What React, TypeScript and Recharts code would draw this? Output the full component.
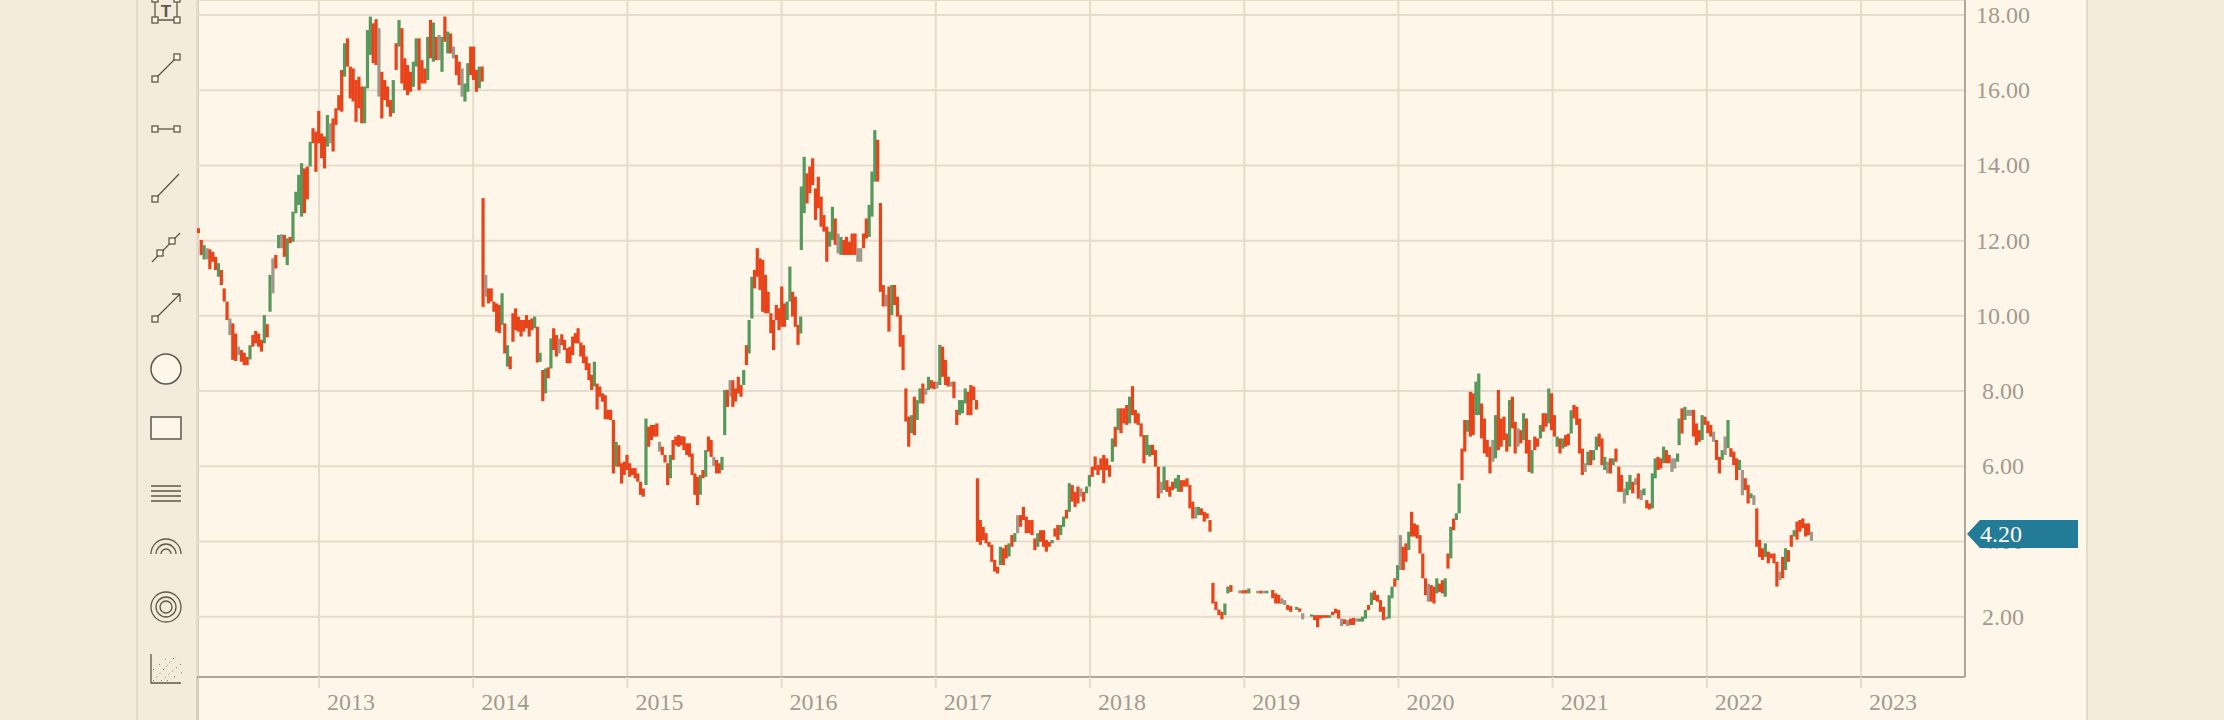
import React from "react";
import {
  Bar,
  CartesianGrid,
  ComposedChart,
  ReferenceLine,
  XAxis,
  YAxis,
} from "recharts";

// one row per week: [high, low, tone], r = down, g = up, n = flat. null = no trade that week
type Candle = [number, number, string] | null;

const candles2012: Candle[] = [
  [12.33,12.2,"r"],[12.02,11.62,"r"],[11.88,11.5,"g"],[11.8,11.5,"n"],[11.77,11.24,"r"],[11.7,11.44,"r"],[11.57,11.22,"r"],[11.4,11.04,"g"],
  [11.22,10.82,"r"],[10.73,10.38,"r"],[10.38,9.89,"r"],[9.93,9.49,"n"],[9.8,8.83,"r"],[9.53,8.8,"r"],[9.18,8.96,"n"],[9.09,8.78,"r"],
  [9.02,8.69,"r"],[8.91,8.69,"r"],[9.22,8.84,"g"],[9.49,9.18,"r"],[9.6,9.27,"r"],[9.53,9.18,"r"],[9.36,9.05,"r"],[10.02,9.27,"g"],
  [9.78,9.43,"r"],[11.09,10.11,"g"],[11.53,10.6,"n"],[11.62,11.26,"r"],[12.15,11.8,"g"],[12.17,11.8,"n"],[12.15,11.57,"r"],[12.06,11.35,"g"],
  [12.1,11.93,"r"],[12.77,11.97,"g"],[13.3,12.73,"g"],[13.75,12.95,"g"],[14.06,12.64,"g"],[13.92,12.73,"r"],
  [13.97,13.1,"r"],[14.63,13.97,"g"],[14.99,14.59,"r"],[14.9,13.83,"r"],[15.45,14.59,"r"],[14.85,14.19,"r"],[14.77,13.92,"r"],[15.34,14.5,"g"],
  [15.12,14.59,"n"],[15.25,14.37,"r"],[15.52,15.08,"r"],[15.87,15.47,"r"],[16.54,15.43,"r"],[17.25,16.36,"g"],[17.38,16.63,"r"],[16.63,15.78,"r"],
  [16.58,15.7,"r"],[16.27,15.16,"r"],[16.36,15.52,"r"],[16.1,15.12,"r"],[16.1,15.12,"g"],[17.6,16.05,"g"],[17.96,16.94,"g"],[17.78,16.72,"r"],
  [17.89,16.67,"r"],[17.65,15.83,"n"],[16.49,15.25,"r"],[16.27,15.74,"r"],[16.1,15.56,"r"],[15.74,15.3,"r"],[16.27,15.39,"g"],[17.25,16.54,"r"],
  [17.87,17.16,"g"],[17.65,16.18,"r"],[16.85,16.0,"r"],[16.67,15.87,"r"],[16.49,15.96,"r"],[16.76,16.09,"g"],[17.38,16.63,"g"],[17.38,16.0,"r"],
  [16.8,16.18,"r"],[16.58,16.18,"r"],[17.42,16.27,"g"],[17.87,16.85,"r"],[17.8,16.76,"g"],[17.42,16.8,"r"],[17.47,16.8,"n"],[17.42,16.49,"g"],
  [17.96,17.29,"r"],[17.56,16.98,"g"],[17.51,16.98,"r"],[17.16,16.85,"n"],[16.94,16.4,"r"],[16.76,16.14,"r"],[16.58,15.83,"n"],[16.18,15.7,"g"],
  [16.72,15.96,"g"],[17.16,16.4,"r"],[17.16,16.27,"r"],[16.54,15.96,"r"],[16.63,16.05,"g"],[16.63,16.23,"r"],
];

const candles2014: Candle[] = [
  [13.13,10.24,"r"],[11.09,10.51,"n"],[10.73,10.33,"r"],[10.73,10.38,"r"],[10.38,10.11,"r"],[10.33,9.58,"r"],[10.29,9.54,"r"],[10.6,9.76,"g"],
  [9.8,9.0,"r"],[9.22,8.65,"g"],[8.92,8.58,"r"],[10.07,9.31,"r"],[10.2,9.62,"r"],[9.98,9.58,"r"],[9.89,9.45,"r"],[9.89,9.58,"r"],
  [10.02,9.67,"r"],[9.89,9.45,"r"],[9.93,9.62,"r"],[9.98,9.67,"g"],[9.71,8.76,"r"],[9.02,8.78,"g"],[8.56,7.73,"r"],[8.6,7.94,"g"],
  [8.63,8.34,"r"],[9.4,8.6,"g"],[9.67,9.09,"r"],[9.49,8.92,"r"],[9.4,9.0,"n"],[9.51,9.22,"r"],[9.36,9.09,"r"],[9.14,8.74,"r"],
  [9.18,8.74,"r"],[9.45,8.96,"r"],[9.54,9.27,"r"],[9.67,9.27,"r"],[9.29,8.92,"r"],[9.22,8.74,"r"],[8.92,8.56,"r"],[8.74,8.29,"r"],
  [8.43,8.03,"r"],[8.78,8.12,"g"],[8.2,7.51,"r"],[8.12,7.85,"r"],[7.94,7.72,"r"],[7.89,7.25,"r"],[7.5,7.25,"r"],[7.5,7.23,"r"],
  [7.23,5.81,"r"],[6.65,5.99,"g"],[6.56,5.99,"r"],[6.08,5.54,"r"],[6.12,5.77,"r"],[6.3,5.9,"r"],[6.08,5.72,"r"],[5.95,5.77,"r"],
  [5.95,5.68,"r"],[5.81,5.59,"r"],[5.59,5.24,"r"],[5.41,5.19,"r"],[7.27,5.5,"g"],[7.05,6.52,"r"],[7.1,6.7,"r"],[7.1,6.79,"r"],
  [7.14,6.79,"r"],[6.65,6.39,"n"],[6.52,6.3,"r"],[6.3,6.1,"r"],[6.08,5.5,"r"],[6.3,5.68,"g"],[6.7,6.17,"r"],[6.79,6.56,"r"],
  [6.83,6.52,"r"],[6.8,6.56,"r"],[6.79,6.43,"r"],[6.61,6.3,"r"],[6.61,6.25,"r"],[6.34,5.77,"r"],[5.81,5.24,"r"],[5.72,4.97,"r"],
  [5.77,5.24,"g"],[5.9,5.68,"r"],[6.43,5.72,"g"],[6.79,6.39,"r"],[6.7,6.25,"r"],[6.25,6.01,"n"],[6.17,5.81,"r"],[6.08,5.81,"r"],
  [6.25,5.9,"g"],[8.03,6.83,"g"],[8.03,7.58,"r"],[8.29,7.85,"n"],[8.29,7.58,"r"],[8.07,7.72,"r"],[8.38,7.94,"r"],[8.16,7.85,"r"],
  [8.56,8.16,"g"],[9.22,8.69,"r"],[9.89,9.0,"g"],[11.04,9.93,"g"],[11.22,10.73,"r"],[11.8,11.04,"r"],[11.53,10.69,"r"],[11.49,10.11,"r"],
  [11.09,10.07,"r"],[10.64,10.07,"r"],[10.07,9.54,"r"],[9.89,9.09,"r"],[10.29,9.89,"r"],[10.2,9.62,"r"],[10.78,9.71,"r"],[10.33,9.71,"r"],
  [10.38,9.89,"g"],[11.31,10.38,"g"],[10.64,9.98,"r"],[10.51,9.71,"r"],[9.76,9.23,"r"],[9.98,9.53,"g"],
];

const candles2016: Candle[] = [
  [13.44,11.75,"g"],[14.23,12.73,"g"],[13.79,12.99,"r"],[13.97,13.26,"r"],[14.19,13.48,"r"],[13.39,12.55,"r"],[13.7,12.86,"r"],[13.17,12.37,"r"],
  [12.68,12.24,"r"],[12.37,11.44,"r"],[12.24,11.84,"g"],[12.9,12.02,"g"],[12.59,11.89,"r"],[12.19,11.66,"n"],[12.1,11.62,"g"],[12.02,11.62,"r"],
  [12.1,11.62,"r"],[11.97,11.62,"r"],[12.19,11.62,"r"],[12.19,11.62,"r"],[11.8,11.44,"n"],[11.8,11.44,"n"],[12.19,11.8,"r"],[12.59,12.06,"r"],
  [12.95,12.1,"g"],[13.84,12.64,"g"],[14.94,13.57,"g"],[14.68,13.57,"r"],[13.0,10.64,"r"],[10.82,10.25,"r"],[10.56,10.25,"n"],[10.78,9.58,"r"],
  [10.82,10.02,"g"],[10.82,10.29,"r"],[10.51,9.98,"r"],[10.02,9.18,"r"],[9.49,8.56,"r"],[8.07,7.19,"r"],[7.32,6.52,"r"],[7.36,6.88,"g"],
  [7.85,6.83,"r"],[7.76,7.23,"g"],[8.07,7.67,"g"],[8.2,7.67,"r"],[8.07,7.9,"n"],[8.38,8.03,"g"],[8.29,8.07,"r"],[8.25,8.05,"r"],
  [8.25,8.07,"n"],[9.23,8.16,"g"],[9.18,8.38,"r"],[8.83,8.16,"r"],[8.38,8.12,"r"],[8.25,8.12,"n"],[8.25,7.81,"r"],[7.5,7.1,"r"],
  [7.76,7.36,"g"],[7.76,7.41,"g"],[8.07,7.67,"g"],[7.98,7.36,"r"],[8.16,7.36,"r"],[8.12,7.76,"r"],[7.76,7.51,"r"],
];

const candles2017: Candle[] = [
  [5.68,3.99,"r"],[4.57,3.91,"r"],[4.39,4.04,"r"],[4.22,3.95,"r"],[3.99,3.86,"r"],[3.91,3.46,"r"],[3.51,3.2,"r"],[3.33,3.15,"r"],
  [3.86,3.37,"g"],[3.82,3.37,"r"],[3.91,3.55,"r"],[3.95,3.6,"g"],[4.17,3.86,"r"],[4.22,3.99,"g"],[4.7,4.22,"n"],[4.7,4.39,"r"],
  [4.92,4.57,"r"],[4.66,4.22,"r"],[4.57,4.22,"r"],[4.57,4.17,"r"],[4.08,3.77,"r"],[4.22,3.86,"g"],[4.3,3.99,"r"],[4.3,3.86,"r"],
  [4.04,3.73,"r"],[3.99,3.86,"r"],[4.04,3.95,"g"],[4.35,4.13,"r"],[4.44,4.04,"r"],[4.44,4.17,"g"],[4.66,4.39,"g"],[4.84,4.61,"r"],
  [5.55,4.79,"g"],[5.5,5.06,"r"],[5.32,4.92,"r"],[5.46,5.01,"r"],[5.41,5.19,"n"],[5.32,5.06,"r"],[5.46,5.28,"g"],[5.77,5.46,"g"],
  [5.99,5.72,"r"],[6.26,5.9,"r"],[6.03,5.77,"r"],[6.21,5.9,"r"],[6.3,5.55,"r"],[6.21,5.9,"r"],[6.03,5.72,"r"],[6.74,6.12,"g"],
  [7.05,6.52,"r"],[7.54,6.96,"g"],[7.54,6.88,"r"],[7.54,7.14,"r"],[7.63,7.1,"r"],[7.85,7.14,"g"],[8.13,7.36,"r"],[7.5,7.14,"r"],
  [7.41,7.1,"r"],[7.14,6.79,"r"],[6.83,6.08,"r"],[6.83,6.3,"g"],[6.57,6.26,"g"],[6.57,6.3,"r"],[6.43,5.99,"r"],[5.99,5.15,"r"],
  [5.59,5.28,"n"],[5.99,5.37,"g"],[5.63,5.32,"r"],[5.46,5.19,"r"],[5.59,5.37,"r"],[5.68,5.41,"g"],[5.77,5.32,"g"],[5.63,5.32,"r"],
  [5.63,5.46,"r"],[5.68,5.46,"r"],[5.5,4.88,"r"],[5.06,4.61,"r"],[4.92,4.61,"n"],[4.92,4.7,"g"],[4.88,4.7,"r"],[4.79,4.53,"r"],
  [4.75,4.61,"r"],[4.57,4.26,"r"],
];

const candles2018: Candle[] = [
  [2.9,2.35,"r"],[2.4,2.18,"r"],[2.19,2.04,"r"],[2.13,1.93,"r"],[2.35,2.04,"g"],[2.8,2.62,"g"],[2.84,2.66,"r"],null,
  null,[2.7,2.62,"n"],[2.7,2.62,"r"],[2.71,2.62,"r"],[2.75,2.62,"g"],null,null,[2.69,2.62,"n"],
  [2.69,2.62,"r"],[2.69,2.62,"n"],[2.69,2.62,"g"],null,[2.71,2.49,"r"],[2.62,2.35,"r"],[2.58,2.35,"r"],[2.49,2.34,"n"],
  [2.44,2.31,"n"],[2.31,2.18,"r"],[2.28,2.13,"r"],null,[2.26,2.18,"g"],[2.22,2.13,"r"],[2.09,1.93,"n"],null,
  null,[2.06,2.0,"g"],[2.04,1.91,"r"],[2.04,1.72,"r"],[2.04,1.95,"r"],[2.04,1.97,"r"],[2.04,1.97,"r"],[2.04,1.97,"g"],
  [2.13,2.04,"r"],[2.21,2.09,"r"],[2.18,1.95,"r"],[1.95,1.75,"n"],[1.93,1.8,"r"],[1.91,1.75,"n"],[1.95,1.78,"r"],[1.97,1.78,"r"],
  [1.95,1.87,"n"],[1.95,1.87,"g"],[2.0,1.87,"g"],[2.18,1.95,"g"],[2.31,2.18,"r"],[2.64,2.31,"g"],[2.69,2.44,"r"],[2.58,2.4,"r"],
  [2.44,2.13,"r"],[2.26,1.91,"r"],[2.0,1.93,"n"],
];

const candles2020: Candle[] = [
  [2.57,1.95,"g"],[2.8,2.49,"g"],[3.02,2.8,"r"],[3.37,2.97,"g"],[4.17,3.24,"n"],[3.86,3.24,"r"],[3.95,3.46,"r"],[4.26,3.77,"g"],
  [4.79,4.13,"r"],[4.48,4.13,"r"],[4.44,4.08,"r"],[4.17,3.68,"r"],[3.68,3.02,"r"],[3.02,2.57,"r"],[2.88,2.4,"n"],[2.84,2.4,"r"],
  [2.8,2.35,"r"],[3.02,2.62,"g"],[2.88,2.66,"r"],[2.97,2.62,"r"],[3.02,2.53,"g"],[3.68,3.28,"r"],[4.39,3.55,"g"],[4.61,4.3,"r"],
  [4.75,4.57,"g"],[5.54,4.75,"g"],[6.47,5.63,"r"],[7.23,6.39,"r"],[7.23,6.92,"g"],[7.98,6.79,"r"],[7.94,6.83,"r"],[8.25,7.36,"g"],
  [8.47,7.36,"g"],[7.67,6.74,"r"],[7.27,6.34,"r"],[6.7,6.25,"r"],[6.52,5.81,"r"],[6.7,6.12,"n"],[7.36,6.21,"g"],[8.03,6.43,"r"],
  [7.27,6.52,"r"],[7.32,6.7,"r"],[6.87,6.39,"r"],[7.76,6.52,"g"],[7.85,7.01,"r"],[7.18,6.34,"r"],[7.01,6.52,"n"],[6.96,6.61,"r"],
  [7.41,6.7,"g"],[7.27,6.34,"r"],[6.7,5.85,"r"],[6.43,5.81,"g"],[6.79,6.43,"r"],[6.74,6.52,"r"],[7.1,6.74,"g"],[7.41,6.92,"r"],
  [7.41,7.05,"r"],[8.07,7.14,"g"],[7.94,6.96,"r"],[7.36,6.79,"r"],[6.79,6.52,"g"],[6.74,6.34,"r"],[6.74,6.47,"g"],[6.83,6.52,"r"],
  [6.87,6.56,"r"],[7.49,6.87,"g"],[7.63,7.27,"r"],[7.58,7.1,"r"],[7.27,6.34,"r"],[6.47,5.77,"r"],[6.08,5.85,"n"],[6.39,6.03,"g"],
  [6.43,6.03,"r"],[6.43,6.16,"g"],[6.79,6.43,"g"],[6.87,6.52,"r"],[6.74,6.03,"r"],[6.25,5.9,"g"],[6.12,5.81,"n"],[6.21,5.81,"r"],
  [6.21,6.03,"g"],[6.47,6.12,"r"],[5.99,5.32,"r"],[5.77,5.32,"r"],[5.41,5.01,"n"],[5.59,5.23,"g"],[5.77,5.37,"g"],[5.59,5.28,"r"],
  [5.68,5.5,"n"],[5.81,5.14,"r"],[5.37,5.1,"n"],[5.41,5.23,"g"],[5.1,4.88,"r"],[5.01,4.85,"r"],[5.81,4.88,"g"],[6.21,5.68,"g"],
  [6.25,5.9,"r"],[6.21,5.94,"r"],[6.52,6.08,"g"],[6.43,6.08,"r"],[6.3,6.08,"r"],[6.21,5.85,"n"],[6.21,5.94,"n"],[6.34,6.12,"g"],
];

const candles2021: Candle[] = [
  [7.27,6.56,"g"],[7.54,6.87,"r"],[7.58,7.23,"g"],[7.5,7.34,"n"],[7.5,7.34,"n"],[7.5,6.79,"r"],[7.14,6.56,"r"],[6.96,6.65,"r"],
  [7.36,6.7,"g"],[7.32,7.1,"r"],[7.2,6.88,"r"],[7.1,6.79,"r"],[6.92,6.65,"n"],[6.7,6.17,"r"],[6.25,5.81,"r"],[6.43,6.17,"g"],
  [6.79,6.3,"n"],[7.23,6.48,"g"],[6.48,6.25,"r"],[6.39,6.03,"r"],[6.21,5.63,"r"],[6.17,5.9,"g"],[5.9,5.23,"n"],[5.68,5.37,"r"],
  [5.5,5.01,"r"],[5.28,5.15,"g"],[5.23,4.97,"n"],[4.88,3.86,"r"],[4.04,3.59,"r"],[3.82,3.51,"r"],[3.95,3.59,"g"],[3.73,3.42,"r"],
  [3.68,3.55,"r"],[3.68,3.42,"r"],[3.46,2.8,"r"],[3.2,2.97,"n"],[3.59,3.02,"r"],[3.82,3.24,"g"],[3.77,3.46,"r"],[4.17,3.86,"r"],
  [4.3,4.13,"g"],[4.53,4.05,"r"],[4.57,4.26,"r"],[4.61,4.35,"r"],[4.48,4.13,"r"],[4.48,4.17,"r"],[4.26,4.02,"n"],
];

const runs: [Candle[], number, number][] = [
  [candles2012, 2012.218, 2014.058],
  [candles2014, 2014.064, 2016.124],
  [candles2016, 2016.128, 2017.264],
  [candles2017, 2017.27, 2018.778],
  [candles2018, 2018.797, 2019.922],
  [candles2020, 2019.94, 2021.81],
  [candles2021, 2021.82, 2022.678],
];

const yearTicks = [2013, 2014, 2015, 2016, 2017, 2018, 2019, 2020, 2021, 2022, 2023];
const priceTicks = [2, 4, 6, 8, 10, 12, 14, 16, 18];
const lastPrice = 4.2;

const toneColors: Record<string, string> = { r: "#e9431a", g: "#56995c", n: "#a1988c" };

const chartData = runs.flatMap(([rows, from, to]) =>
  rows.flatMap((row, i) => {
    if (!row) return [];
    const [high, low, tone] = row;
    return [{ time: from + (i * (to - from)) / (rows.length - 1), range: [low, high], tone }];
  })
);

const priceDomain = [0.396, 18.4];
const serif = '"Liberation Serif", "Times New Roman", serif';
const labelColor = "#a29b8f";
const gridColor = "#e5dccc";
const axisColor = "#afa797";
const ink = "#5f574b";
const panel = "#fef6e9";

function YearTick({ x, y, payload }: any) {
  return (
    <text x={x + 8} y={y + 20} fill={labelColor} fontFamily={serif} fontSize={24}>
      {payload.value}
    </text>
  );
}

function PriceTick({ x, y, payload }: any) {
  return (
    <text x={x + 30} y={y + 8} textAnchor="middle" fill={labelColor} fontFamily={serif} fontSize={24}>
      {payload.value.toFixed(2)}
    </text>
  );
}

// recharts squeezes bars to the smallest gap on a number axis, so keep the centre and set the width here
function CandleBar({ x, y, width, height, tone, payload }: any) {
  const t = tone ?? payload?.tone;
  return <rect x={x + width / 2 - 1.6} y={y} width={3.2} height={height} fill={toneColors[t]} />;
}

function PriceTag({ viewBox }: any) {
  const left = viewBox.x + viewBox.width + 2;
  const y = viewBox.y;
  return (
    <g>
      <polygon
        points={`${left},${y} ${left + 13},${y - 14} ${left + 111},${y - 14} ${left + 111},${y + 14} ${left + 13},${y + 14}`}
        fill="#237c97"
      />
      <text x={left + 13} y={y + 8} fill="#fff" fontFamily={serif} fontSize={24}>
        {lastPrice.toFixed(2)}
      </text>
    </g>
  );
}

function Handle({ x, y }: { x: number; y: number }) {
  return <rect x={x - 3} y={y - 3} width={6} height={6} fill={panel} stroke={ink} strokeWidth={1.3} />;
}

// drawing tools down the left side of the chart
function Toolbar() {
  return (
    <svg width={60} height={720} style={{ position: "absolute", left: 137, top: 0 }}>
      <g fill="none" stroke={ink} strokeWidth={1.3}>
        <path d="M18 -8V20M40 -8V20M18 20H40" />
        <path d="M18 79L40 57" />
        <path d="M18 129H40" />
        <path d="M18 199L42 174" />
        <path d="M15 262L43 233" />
        <path d="M18 319L43 294M43 294H35M43 294V302" />
        <circle cx={29} cy={369} r={15} fill={panel} strokeWidth={1.5} />
        <rect x={14} y={417} width={30} height={22} fill={panel} strokeWidth={1.5} />
        <path d="M14 486H44M14 491H44M14 496H44M14 501H44" />
        <path d="M14 554A15 15 0 0 1 44 554M19 554A10 10 0 0 1 39 554M24 554A5 5 0 0 1 34 554" />
        <circle cx={29} cy={607} r={15} />
        <circle cx={29} cy={607} r={10} />
        <circle cx={29} cy={607} r={6} />
        <path d="M14 654V683H44" />
        <path d="M16 681L38 657M24 681L44 664" strokeDasharray="1 4" strokeWidth={1} />
        <path d="M16 670L30 658M30 681L46 672" strokeDasharray="1 7" strokeWidth={1} />
      </g>
      <text x={29} y={17} textAnchor="middle" fill={ink} fontFamily="Liberation Sans" fontWeight="bold" fontSize={17}>
        T
      </text>
      <Handle x={18} y={20} />
      <Handle x={40} y={20} />
      <Handle x={18} y={-1} />
      <Handle x={40} y={-1} />
      <Handle x={18} y={79} />
      <Handle x={40} y={57} />
      <Handle x={18} y={129} />
      <Handle x={40} y={129} />
      <Handle x={18} y={199} />
      <Handle x={23} y={253} />
      <Handle x={35} y={241} />
      <Handle x={18} y={319} />
    </svg>
  );
}

export default function App() {
  return (
    <div style={{ position: "absolute", left: 0, top: 0, width: 2224, height: 720, overflow: "hidden", background: "#f3ecdc" }}>
      <div style={{ position: "absolute", left: 136, top: 0, width: 2, height: 720, background: "#e3dccb" }} />
      <div style={{ position: "absolute", left: 196, top: 0, width: 3, height: 720, background: "#d6cfbc" }} />
      <div style={{ position: "absolute", left: 199, top: 0, width: 1888, height: 720, background: panel }} />
      <div style={{ position: "absolute", left: 2086, top: 0, width: 2, height: 720, background: "#e3dccb" }} />
      <Toolbar />
      <div style={{ position: "absolute", left: 0, top: 0 }}>
        <ComposedChart width={2224} height={720} data={chartData} margin={{ top: 0, right: 0, bottom: 0, left: 197 }}>
          <CartesianGrid stroke={gridColor} strokeWidth={2} />
          <XAxis
            dataKey="time"
            type="number"
            domain={[2012.209, 2023.674]}
            ticks={yearTicks}
            height={43}
            allowDataOverflow
            tick={<YearTick />}
            tickSize={11}
            tickLine={{ stroke: gridColor, strokeWidth: 2 }}
            axisLine={{ stroke: axisColor, strokeWidth: 2 }}
          />
          <YAxis
            orientation="right"
            type="number"
            domain={priceDomain}
            ticks={priceTicks}
            width={259}
            allowDataOverflow
            tick={<PriceTick />}
            tickLine={false}
            axisLine={{ stroke: axisColor, strokeWidth: 2 }}
          />
          <Bar dataKey="range" shape={<CandleBar />} isAnimationActive={false} />
        </ComposedChart>
      </div>
      {/* the price tag sits over the axis labels, so it gets its own chart on the same scale */}
      <div style={{ position: "absolute", left: 0, top: 0 }}>
        <ComposedChart width={2224} height={720} data={chartData.slice(0, 1)} margin={{ top: 0, right: 259, bottom: 43, left: 197 }}>
          <XAxis dataKey="time" type="number" domain={[2012.209, 2023.674]} hide />
          <YAxis type="number" domain={priceDomain} hide allowDataOverflow />
          <ReferenceLine y={lastPrice} stroke="none" label={<PriceTag />} />
        </ComposedChart>
      </div>
    </div>
  );
}
